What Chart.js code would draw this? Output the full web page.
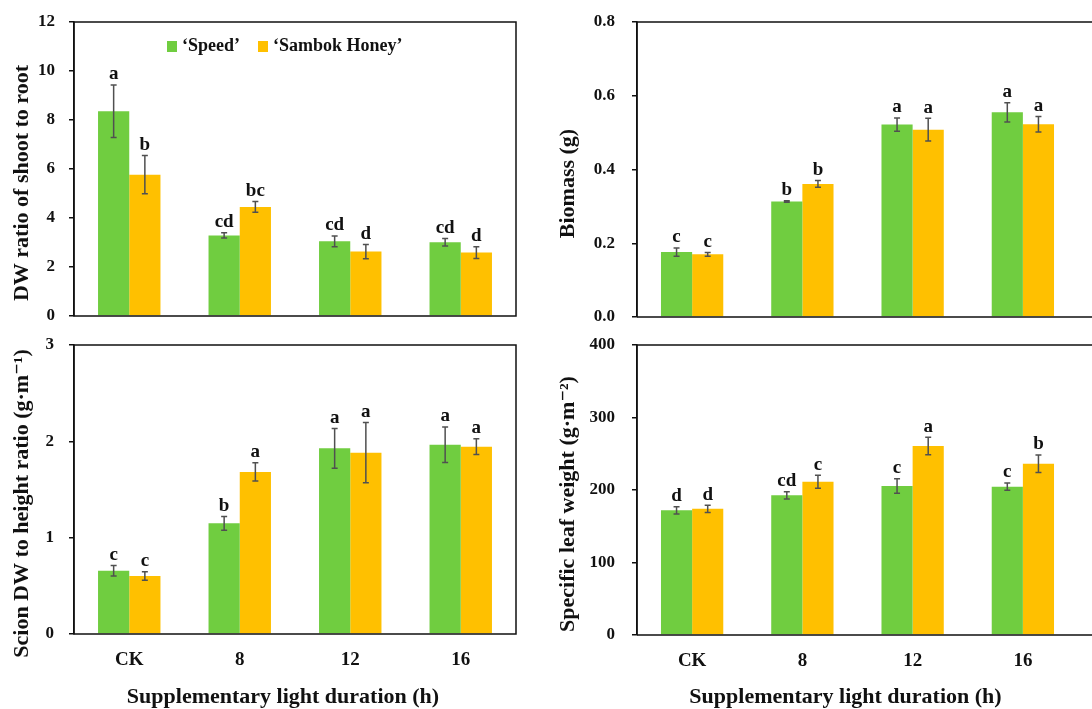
<!DOCTYPE html>
<html>
<head>
<meta charset="utf-8">
<script src="https://cdn.jsdelivr.net/npm/chart.js@4.4.1/dist/chart.umd.min.js"></script>
<style>
  body { margin: 0; background: #fff; width: 1092px; height: 709px; overflow: hidden; position: relative; }
  canvas { position: absolute; }
</style>
</head>
<body>
<canvas id="c1" width="546" height="330" style="left:0;top:0"></canvas>
<canvas id="c2" width="546" height="330" style="left:546px;top:0"></canvas>
<canvas id="c3" width="546" height="379" style="left:0;top:330px"></canvas>
<canvas id="c4" width="546" height="379" style="left:546px;top:330px"></canvas>
<script>
const categories = ['CK', '8', '12', '16'];
const seriesNames = ['\u2018Speed\u2019', '\u2018Sambok Honey\u2019'];
const seriesColors = ['#70cd40', '#ffc000'];
const xTitle = 'Supplementary light duration (h)';

// DW ratio of shoot to root
const ratioSpeed = [8.36, 3.29, 3.05, 3.01];
const ratioSpeedErr = [1.07, 0.11, 0.22, 0.15];
const ratioSpeedLetters = ['a', 'cd', 'cd', 'cd'];
const ratioSambok = [5.77, 4.45, 2.63, 2.59];
const ratioSambokErr = [0.78, 0.22, 0.29, 0.24];
const ratioSambokLetters = ['b', 'bc', 'd', 'd'];

// Biomass (g)
const biomassSpeed = [0.176, 0.313, 0.522, 0.555];
const biomassSpeedErr = [0.011, 0.002, 0.018, 0.026];
const biomassSpeedLetters = ['c', 'b', 'a', 'a'];
const biomassSambok = [0.170, 0.361, 0.508, 0.523];
const biomassSambokErr = [0.005, 0.009, 0.031, 0.021];
const biomassSambokLetters = ['c', 'b', 'a', 'a'];

// Scion DW to height ratio
const scionSpeed = [0.657, 1.149, 1.927, 1.965];
const scionSpeedErr = [0.055, 0.071, 0.206, 0.185];
const scionSpeedLetters = ['c', 'b', 'a', 'a'];
const scionSambok = [0.602, 1.682, 1.882, 1.945];
const scionSambokErr = [0.043, 0.095, 0.313, 0.081];
const scionSambokLetters = ['c', 'a', 'a', 'a'];

// Specific leaf weight
const slwSpeed = [172, 192.6, 205.5, 204.6];
const slwSpeedErr = [5, 5, 10, 5];
const slwSpeedLetters = ['d', 'cd', 'c', 'c'];
const slwSambok = [174, 211.5, 260.7, 236.3];
const slwSambokErr = [5, 9, 12, 12];
const slwSambokLetters = ['d', 'c', 'a', 'b'];

const FONT = '"Liberation Serif", "DejaVu Serif", serif';

// error bars + significance letters
const errorBarPlugin = {
  id: 'errorBars',
  afterDatasetsDraw(chart) {
    const ctx = chart.ctx;
    const y = chart.scales.y;
    ctx.save();
    chart.data.datasets.forEach((ds, i) => {
      const meta = chart.getDatasetMeta(i);
      meta.data.forEach((bar, j) => {
        const v = ds.data[j], e = ds.errors[j];
        const top = y.getPixelForValue(v + e);
        const bot = y.getPixelForValue(v - e);
        ctx.strokeStyle = '#505050';
        ctx.lineWidth = 1.5;
        ctx.beginPath();
        ctx.moveTo(bar.x, top); ctx.lineTo(bar.x, bot);
        ctx.moveTo(bar.x - 3, top); ctx.lineTo(bar.x + 3, top);
        ctx.moveTo(bar.x - 3, bot); ctx.lineTo(bar.x + 3, bot);
        ctx.stroke();
        ctx.fillStyle = '#111';
        ctx.font = 'bold 19px ' + FONT;
        ctx.textAlign = 'center';
        ctx.textBaseline = 'bottom';
        ctx.fillText(ds.letters[j], bar.x, top - 1);
      });
    });
    ctx.restore();
  }
};

// box around plot area + axis titles (the originals sit a bit off-centre)
const framePlugin = {
  id: 'frame',
  afterDraw(chart, args, opts) {
    const a = chart.chartArea, ctx = chart.ctx;
    ctx.save();
    ctx.strokeStyle = '#111';
    ctx.lineWidth = 1.5;
    ctx.beginPath();
    if (opts.openRight) {
      ctx.moveTo(a.left, a.top); ctx.lineTo(chart.width, a.top);
      ctx.moveTo(a.left, a.bottom); ctx.lineTo(chart.width, a.bottom);
      ctx.moveTo(a.left, a.top); ctx.lineTo(a.left, a.bottom);
    } else {
      ctx.rect(a.left, a.top, a.right - a.left, a.bottom - a.top);
    }
    ctx.stroke();

    ctx.fillStyle = '#111';
    ctx.font = 'bold 22px ' + FONT;
    ctx.textAlign = 'center';
    ctx.textBaseline = 'middle';
    ctx.save();
    ctx.translate(22, (a.top + a.bottom) / 2 + 14);
    ctx.rotate(-Math.PI / 2);
    ctx.fillText(opts.yTitle, 0, 0);
    ctx.restore();
    if (opts.xTitle) {
      ctx.fillText(opts.xTitle, (a.left + a.right) / 2 - 12, chart.height - 12);
    }
    ctx.restore();
  }
};

// legend inside the first panel
const innerLegendPlugin = {
  id: 'innerLegend',
  afterDraw(chart, args, opts) {
    if (!opts.show) return;
    const ctx = chart.ctx;
    ctx.save();
    ctx.font = 'bold 18px ' + FONT;
    ctx.textBaseline = 'middle';
    ctx.textAlign = 'left';
    let x = opts.x;
    chart.data.datasets.forEach(ds => {
      ctx.fillStyle = ds.backgroundColor;
      ctx.fillRect(x, opts.y - 5, 10, 11);
      ctx.fillStyle = '#111';
      ctx.fillText(ds.label, x + 15, opts.y);
      x += 15 + ctx.measureText(ds.label).width + 18;
    });
    ctx.restore();
  }
};

function makeChart(id, cfg) {
  const datasets = [
    { label: seriesNames[0], data: cfg.speed, errors: cfg.speedErr, letters: cfg.speedLetters, backgroundColor: seriesColors[0] },
    { label: seriesNames[1], data: cfg.sambok, errors: cfg.sambokErr, letters: cfg.sambokLetters, backgroundColor: seriesColors[1] }
  ];
  datasets.forEach(d => { d.barPercentage = 1; d.categoryPercentage = 0.565; d.borderWidth = 0; });
  return new Chart(document.getElementById(id), {
    type: 'bar',
    data: { labels: categories, datasets },
    options: {
      responsive: false,
      animation: false,
      layout: { padding: cfg.padding },
      plugins: {
        legend: { display: false },
        tooltip: { enabled: false },
        frame: { openRight: cfg.openRight, yTitle: cfg.yTitle, xTitle: cfg.showX ? xTitle : '' },
        innerLegend: { show: !!cfg.legend, x: 167, y: 46 }
      },
      scales: {
        x: {
          grid: { display: false, drawTicks: false },
          border: { display: false },
          ticks: { display: cfg.showX, color: '#111', padding: 15, font: { family: FONT, size: 19, weight: 'bold' } },
          afterFit: s => { s.height = cfg.xHeight; s.paddingLeft = 0; s.paddingRight = 0; }
        },
        y: {
          min: cfg.min, max: cfg.max,
          grid: { drawOnChartArea: false, drawTicks: true, tickLength: 5, color: '#111', lineWidth: 1.5 },
          border: { display: true, color: '#111', width: 1.5 },
          ticks: {
            stepSize: cfg.step, color: '#111', padding: cfg.tickPad,
            font: { family: FONT, size: 17, weight: 'bold' },
            callback: v => cfg.decimals ? Number(v).toFixed(cfg.decimals) : v
          },
          afterFit: s => { s.width = cfg.yWidth; s.paddingTop = 0; s.paddingBottom = 0; }
        }
      }
    },
    plugins: [errorBarPlugin, framePlugin, innerLegendPlugin]
  });
}

makeChart('c1', {
  speed: ratioSpeed, speedErr: ratioSpeedErr, speedLetters: ratioSpeedLetters,
  sambok: ratioSambok, sambokErr: ratioSambokErr, sambokLetters: ratioSambokLetters,
  min: 0, max: 12, step: 2, yTitle: 'DW ratio of shoot to root',
  padding: { top: 22, right: 30, bottom: 14, left: 0 }, yWidth: 74, xHeight: 0, showX: false,
  tickPad: 14, legend: true
});
makeChart('c2', {
  speed: biomassSpeed, speedErr: biomassSpeedErr, speedLetters: biomassSpeedLetters,
  sambok: biomassSambok, sambokErr: biomassSambokErr, sambokLetters: biomassSambokLetters,
  min: 0, max: 0.8, step: 0.2, decimals: 1, yTitle: 'Biomass (g)',
  padding: { top: 22, right: 14, bottom: 13, left: 0 }, yWidth: 91, xHeight: 0, showX: false,
  tickPad: 17, openRight: true
});
makeChart('c3', {
  speed: scionSpeed, speedErr: scionSpeedErr, speedLetters: scionSpeedLetters,
  sambok: scionSambok, sambokErr: scionSambokErr, sambokLetters: scionSambokLetters,
  min: 0, max: 3, step: 1, yTitle: 'Scion DW to height ratio (g\u00b7m\u207b\u00b9)',
  padding: { top: 15, right: 30, bottom: 0, left: 0 }, yWidth: 74, xHeight: 75, showX: true,
  tickPad: 15
});
makeChart('c4', {
  speed: slwSpeed, speedErr: slwSpeedErr, speedLetters: slwSpeedLetters,
  sambok: slwSambok, sambokErr: slwSambokErr, sambokLetters: slwSambokLetters,
  min: 0, max: 400, step: 100, yTitle: 'Specific leaf weight (g\u00b7m\u207b\u00b2)',
  padding: { top: 15, right: 14, bottom: 0, left: 0 }, yWidth: 91, xHeight: 74, showX: true,
  tickPad: 17, openRight: true
});
</script>
</body>
</html>
